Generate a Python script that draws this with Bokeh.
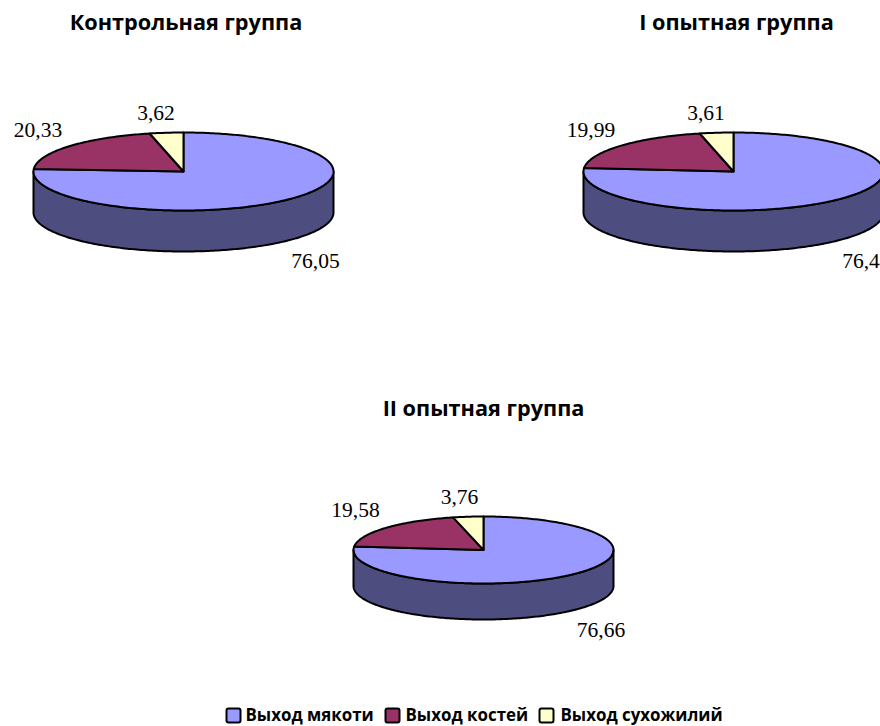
import math

from bokeh.core.properties import value
from bokeh.embed import file_html
from bokeh.models import Range1d
from bokeh.plotting import figure
from bokeh.resources import INLINE

# Carcass yield by group, percent
group_names = ["Контрольная группа", "I опытная группа", "II опытная группа"]
meat_yield = [76.05, 76.40, 76.66]
bone_yield = [20.33, 19.99, 19.58]
tendon_yield = [3.62, 3.61, 3.76]

meat_labels = ["76,05", "76,4", "76,66"]
bone_labels = ["20,33", "19,99", "19,58"]
tendon_labels = ["3,62", "3,61", "3,76"]

series_names = ["Выход мякоти", "Выход костей", "Выход сухожилий"]
series_colors = ["#9999FF", "#993366", "#FFFFCC"]
wall_color = "#4D4D80"

# Disc placement: centre x, centre y, radius x, radius y, wall depth
discs = [(183, 171, 150, 39, 41), (733, 171, 150, 39, 41), (483, 549.5, 130, 33.5, 36)]
title_pos = [(185.5, 21), (736, 21), (483, 406.5)]
bone_pos = [(37.5, 129), (590.5, 129), (355, 509)]
tendon_pos = [(155.5, 112), (705.5, 112), (459, 496)]
meat_pos = [(315, 260), (860.5, 260), (600.5, 629)]

SANS = value("Open Sans")
SERIF = value("Liberation Serif")

p = figure(width=880, height=726, output_backend="svg", toolbar_location=None,
           x_range=Range1d(0, 880), y_range=Range1d(726, 0), min_border=0)
p.axis.visible = False
p.grid.visible = False
p.outline_line_color = None
p.background_fill_color = "white"
p.border_fill_color = "white"


def rim(disc, start, end, drop=0.0):
    """Points along the tilted disc rim between two clockwise-from-top angles."""
    cx, cy, rx, ry, _ = disc
    steps = max(2, int(abs(end - start) * 60))
    angles = [start + (end - start) * i / steps for i in range(steps + 1)]
    return ([cx + rx * math.sin(a) for a in angles],
            [cy - ry * math.cos(a) + drop for a in angles])


for i, disc in enumerate(discs):
    cx, cy, _, _, depth = disc

    # Front wall below the visible half of the rim
    top_x, top_y = rim(disc, math.pi / 2, 3 * math.pi / 2)
    low_x, low_y = rim(disc, 3 * math.pi / 2, math.pi / 2, depth)
    p.patch(top_x + low_x, top_y + low_y, fill_color=wall_color,
            line_color="black", line_width=2, line_join="round")

    # Top face, one sector per series
    start = 0.0
    total = meat_yield[i] + bone_yield[i] + tendon_yield[i]
    for share, color in zip((meat_yield[i], bone_yield[i], tendon_yield[i]), series_colors):
        end = start + 2 * math.pi * share / total
        xs, ys = rim(disc, start, end)
        p.patch([cx] + xs, [cy] + ys, fill_color=color, line_color="black",
                line_width=2, line_join="round")
        start = end

    p.text([title_pos[i][0]], [title_pos[i][1]], text=[group_names[i]], text_font=SANS,
           text_font_style="bold", text_font_size="21.7px", text_align="center",
           text_baseline="middle", text_color="black")
    for pos, label in ((bone_pos[i], bone_labels[i]), (tendon_pos[i], tendon_labels[i]),
                       (meat_pos[i], meat_labels[i])):
        p.text([pos[0]], [pos[1]], text=[label], text_font=SERIF, text_font_size="21.5px",
               text_align="center", text_baseline="middle", text_color="black")

# Legend row along the bottom edge
swatch_x = [226, 385, 539]
label_x = [245, 405, 560]
for x0, lx, name, color in zip(swatch_x, label_x, series_names, series_colors):
    p.quad(left=[x0], right=[x0 + 14], top=[708], bottom=[722], fill_color=color,
           line_color="black", line_width=2, border_radius=2)
    p.text([lx], [714], text=[name], text_font=SANS, text_font_style="bold",
           text_font_size="16.9px", text_align="left", text_baseline="middle",
           text_color="black")

open("out.html", "w").write(file_html(p, INLINE))
